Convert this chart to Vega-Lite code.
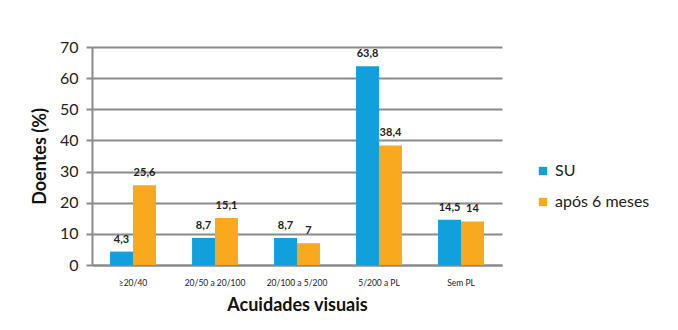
{
  "$schema": "https://vega.github.io/schema/vega-lite/v6.json",
  "width": 410,
  "height": 218,
  "autosize": "none",
  "padding": {"left": 92, "top": 47, "right": 176, "bottom": 65},
  "background": "white",
  "config": {
    "font": "Lato",
    "view": {"stroke": null},
    "locale": {"number": {"decimal": ",", "thousands": ".", "grouping": [3], "currency": ["", " €"]}}
  },
  "data": {
    "values": [
      {"cat": "≥20/40", "series": "SU", "value": 4.3},
      {"cat": "≥20/40", "series": "após 6 meses", "value": 25.6},
      {"cat": "20/50 a 20/100", "series": "SU", "value": 8.7},
      {"cat": "20/50 a 20/100", "series": "após 6 meses", "value": 15.1},
      {"cat": "20/100 a 5/200", "series": "SU", "value": 8.7},
      {"cat": "20/100 a 5/200", "series": "após 6 meses", "value": 7},
      {"cat": "5/200 a PL", "series": "SU", "value": 63.8},
      {"cat": "5/200 a PL", "series": "após 6 meses", "value": 38.4},
      {"cat": "Sem PL", "series": "SU", "value": 14.5},
      {"cat": "Sem PL", "series": "após 6 meses", "value": 14}
    ]
  },
  "encoding": {
    "x": {
      "field": "cat", "type": "nominal",
      "sort": ["≥20/40", "20/50 a 20/100", "20/100 a 5/200", "5/200 a PL", "Sem PL"],
      "scale": {"paddingInner": 0.44, "paddingOuter": 0.22},
      "axis": {
        "title": "Acuidades visuais", "titleFontSize": 18, "titleFontWeight": "bold", "titleColor": "#111",
        "titleY": 40, "titleBaseline": "middle",
        "labelAngle": 0, "labelFontSize": 8.5, "labelColor": "#222", "labelPadding": 13,
        "ticks": false, "domainColor": "#8a8a8a", "domainWidth": 2
      }
    },
    "xOffset": {"field": "series", "type": "nominal", "sort": ["SU", "após 6 meses"], "scale": {"paddingInner": 0, "paddingOuter": 0}},
    "y": {
      "field": "value", "type": "quantitative",
      "scale": {"domain": [0, 70], "nice": false},
      "axis": {
        "title": "Doentes (%)", "titleFontSize": 18, "titleFontWeight": "bold", "titleColor": "#111",
        "titleX": -52, "titleY": 109, "titleAlign": "center", "titleBaseline": "middle",
        "values": [0, 10, 20, 30, 40, 50, 60, 70], "format": "d",
        "labelFontSize": 16, "labelColor": "#222", "labelPadding": 8,
        "tickColor": "#8a8a8a", "tickSize": 6, "tickWidth": 2,
        "gridColor": "#8a8a8a", "gridWidth": 2, "gridOpacity": 1,
        "domainColor": "#8a8a8a", "domainWidth": 2
      }
    }
  },
  "layer": [
    {
      "mark": {"type": "bar"},
      "encoding": {
        "color": {
          "field": "series", "type": "nominal",
          "scale": {"domain": ["SU", "após 6 meses"], "range": ["#12a0dc", "#f8a91d"]},
          "legend": {
            "title": null, "orient": "none", "legendX": 443, "legendY": 116,
            "symbolType": "square", "symbolSize": 70, "symbolStrokeWidth": 0,
            "labelFontSize": 16, "labelColor": "#222", "rowPadding": 15, "labelOffset": 4
          }
        }
      }
    },
    {
      "mark": {"type": "text", "baseline": "bottom", "dy": -7, "fontSize": 11, "fontWeight": "bold", "color": "#222"},
      "encoding": {
        "text": {"field": "value", "type": "quantitative", "format": ".1~f"}
      }
    }
  ]
}
